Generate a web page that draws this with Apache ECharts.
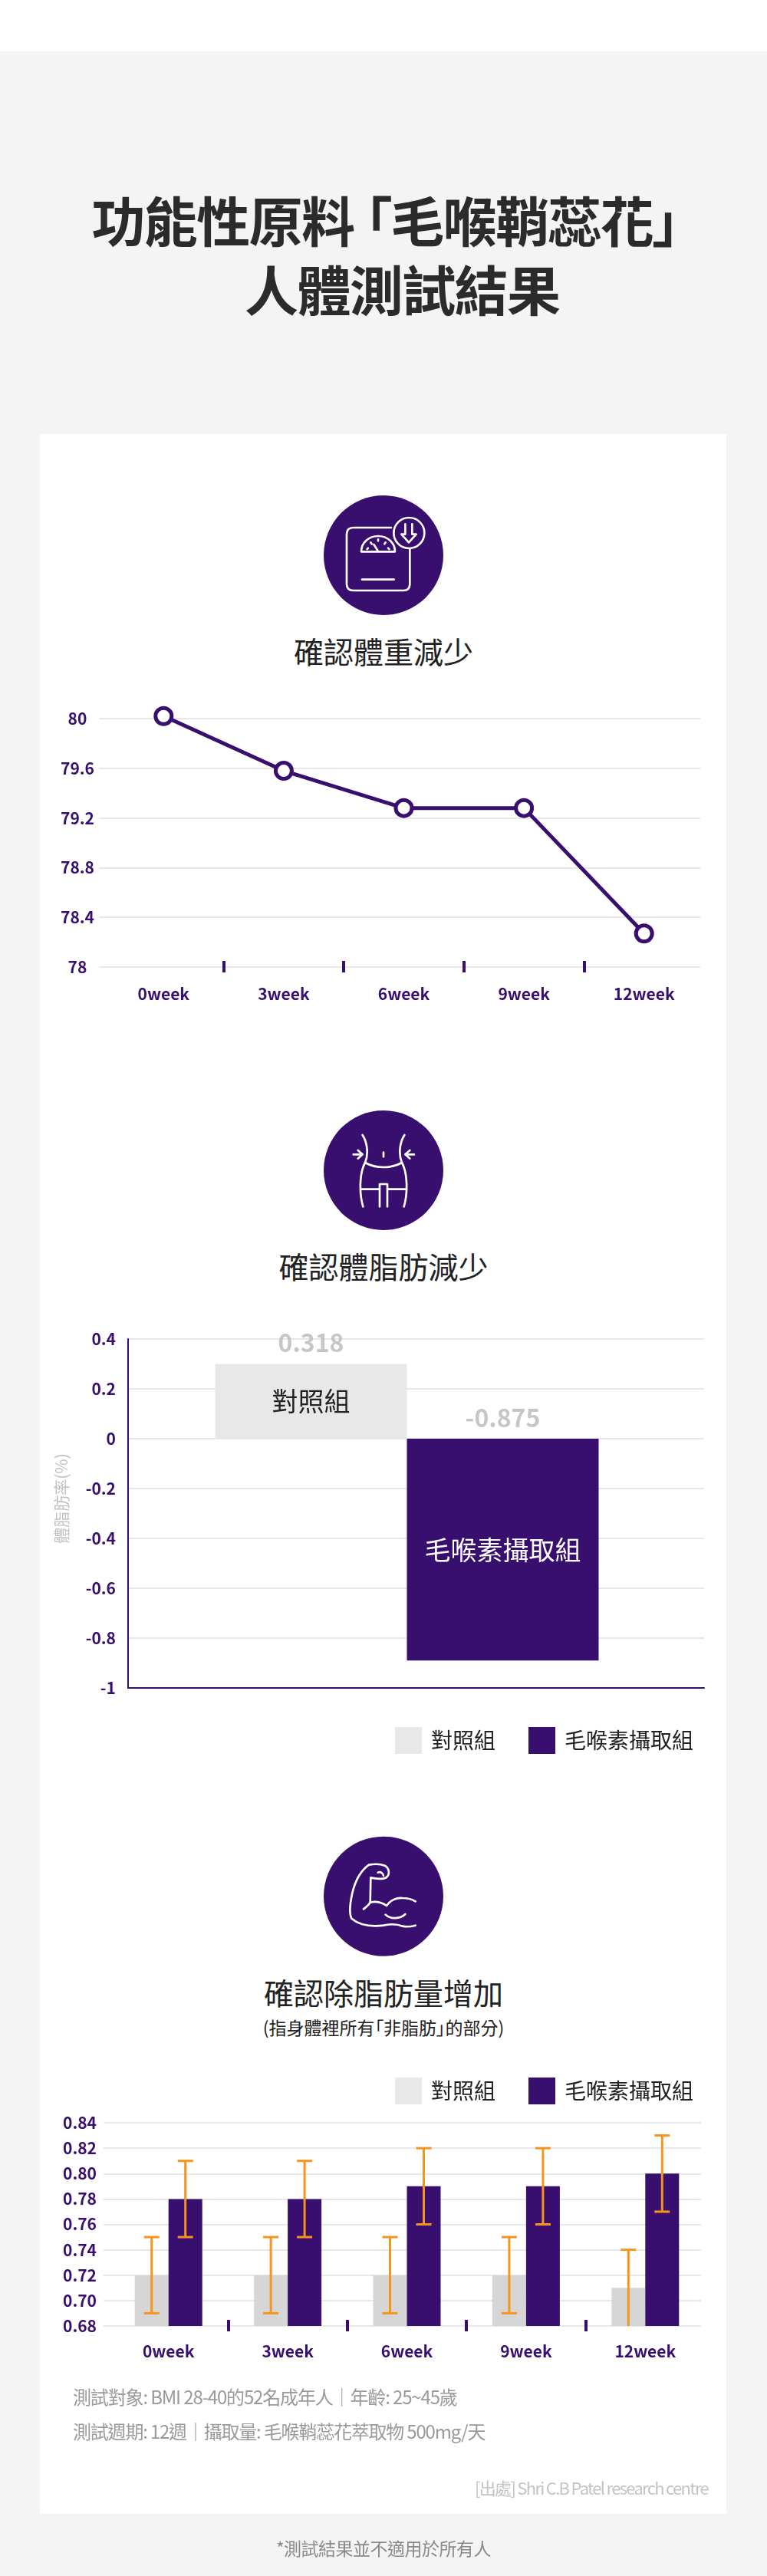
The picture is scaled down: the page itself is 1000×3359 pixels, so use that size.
<!DOCTYPE html>
<html lang="zh-Hant">
<head>
<meta charset="utf-8">
<script src="https://cdn.jsdelivr.net/npm/echarts@6/dist/echarts.min.js"></script>
<style>
  html,body{margin:0;padding:0;background:#fff;}
  #page{position:relative;width:1000px;height:3359px;overflow:hidden;background:#f4f4f4;font-family:"Noto Sans CJK TC","Noto Sans",sans-serif;font-feature-settings:"palt";}
  #band{position:absolute;left:0;top:0;width:1000px;height:67px;background:#fff;}
  #card{position:absolute;left:52px;top:566px;width:895px;height:2712px;background:#fff;}
  #chart{position:absolute;left:0;top:0;width:1000px;height:3359px;}
  .t{position:absolute;white-space:nowrap;line-height:1;}
  .c{left:0;width:1000px;text-align:center;}
  svg{position:absolute;width:200px;height:200px;left:400px;}
  svg path{fill:none;stroke:#fff;stroke-width:8;stroke-linecap:round;stroke-linejoin:round;}
</style>
</head>
<body>
<div id="page">
  <div id="band"></div>
  <div id="card"></div>
  <div class="t c" style="top:251px;left:2px;font-size:70px;font-weight:700;color:#2b2b2b;letter-spacing:-1.6px;">功能性原料 「毛喉鞘蕊花」</div>
  <div class="t" style="top:341px;left:319px;font-size:70px;font-weight:700;color:#2b2b2b;letter-spacing:-1.6px;">人體測試結果</div>

  <svg style="top:630px" viewBox="0 0 600 600"><circle cx="300" cy="282" r="234" fill="#380f6f"/>
    <path d="M330,174 L182,174 Q156,174 156,200 L156,394 Q156,420 182,420 L378,420 Q403,420 403,394 L403,258"/>
    <circle cx="400" cy="195" r="60" fill="none" stroke="#fff" stroke-width="8"/>
    <path d="M385,160 L385,200 L370,200 L399,232 L428,200 L412,200 L412,160"/>
    <path d="M213,268 L345,268 C345,232 315,207 279,207 C243,207 213,232 213,268 Z"/>
    <path d="M236,258 L240,254 M250,232 L254,238 M279,220 L279,226 M308,232 L304,238 M322,258 L318,254 M262,240 L278,265"/>
    <path d="M216,377 L341,377"/></svg>
  <div class="t c" style="top:829px;font-size:39px;color:#222;">確認體重減少</div>

  <svg style="top:1430px" viewBox="0 0 600 600"><circle cx="300" cy="288" r="234" fill="#380f6f"/>
    <path d="M218,150 C240,185 240,230 228,258 C205,300 205,380 220,430"/>
    <path d="M382,150 C360,185 360,230 372,258 C395,300 395,380 380,430"/>
    <path d="M228,258 C270,282 330,282 372,258"/>
    <path d="M212,362 L285,362 M315,362 L390,362 M285,430 L285,342 L315,342 L315,430"/>
    <path d="M300,218 L300,235"/>
    <path d="M182,226 L218,226 M200,210 L218,226 L200,242"/>
    <path d="M420,226 L385,226 M403,210 L385,226 L403,242"/></svg>
  <div class="t c" style="top:1631px;font-size:39px;color:#222;">確認體脂肪減少</div>

  <svg style="top:2380px" viewBox="0 0 600 600"><circle cx="300" cy="278" r="234" fill="#380f6f"/>
    <path d="M222,328 C235,318 243,312 248,302 L250,205 C270,210 300,212 310,205 C325,195 325,170 305,158 C285,150 260,152 243,155 C215,175 190,215 178,265 C168,310 165,345 175,365 C205,390 250,398 300,392 C330,385 350,385 375,395 C390,398 410,396 425,392"/>
    <path d="M248,302 C275,295 300,305 312,315 C325,295 350,282 375,285 C395,285 415,292 425,298"/>
    <path d="M308,350 C325,368 365,368 385,348"/>
    <path d="M278,185 C290,180 300,190 300,198"/></svg>
  <div class="t c" style="top:2578px;font-size:39px;color:#222;">確認除脂肪量增加</div>
  <div class="t c" style="top:2632px;font-size:23px;color:#222;">(指身體裡所有「非脂肪」的部分)</div>

  <div id="chart"></div>

  <div class="t" style="left:95px;top:3113px;font-size:24px;color:#9a9a9a;letter-spacing:-1.15px;">測試對象: BMI 28-40的52名成年人｜年齡: 25~45歲</div>
  <div class="t" style="left:95px;top:3158px;font-size:24px;color:#9a9a9a;letter-spacing:-1.2px;">測試週期: 12週｜攝取量: 毛喉鞘蕊花萃取物 500mg/天</div>
  <div class="t" style="right:77px;top:3232px;font-size:22px;color:#c4c4c4;letter-spacing:-1.7px;">[出處] Shri C.B Patel research centre</div>
  <div class="t c" style="top:3311px;font-size:23px;color:#8a8a8a;letter-spacing:-.5px;">*測試結果並不適用於所有人</div>
</div>
<script>
const weeks = ['0week','3week','6week','9week','12week'];
const weightValues = [80.02, 79.58, 79.28, 79.28, 78.27];
const bandDividers = [1, 2, 3, 4];

const groupNames = ['對照組', '毛喉素攝取組'];
const fatControl = [0.30, null];
const fatExtract = [null, -0.89];
const fatTextLabels = ['0.318', '-0.875'];

const leanControl = [0.72, 0.72, 0.72, 0.72, 0.71];
const leanExtract = [0.78, 0.78, 0.79, 0.79, 0.80];
const leanControlHigh = [0.75, 0.75, 0.75, 0.75, 0.74];
const leanControlLow = [0.69, 0.69, 0.69, 0.69, 0.68];
const leanExtractHigh = [0.81, 0.81, 0.82, 0.82, 0.83];
const leanExtractLow = [0.75, 0.75, 0.76, 0.76, 0.77];

const PURPLE = '#380f6f', GRAY = '#e8e8e8', GRAY2 = '#d6d6d6', LINE = '#e8e8e8', ORANGE = '#f7941d';
const FONT = '"Noto Sans CJK TC","Noto Sans",sans-serif';
const axisText = {color: PURPLE, fontSize: 21, fontWeight: 700, fontFamily: FONT};
const split = {show: true, lineStyle: {color: LINE, width: 2}};

const chart = echarts.init(document.getElementById('chart'), null, {width: 1000, height: 3359});

function hiddenCat(g){ return {type:'category', gridIndex:g, data:[], show:false}; }
function weekAxis(g, margin){
  return {type:'category', gridIndex:g, data:weeks, position:'bottom',
    axisLine:{show:false}, axisTick:{show:false}, splitLine:{show:false},
    axisLabel:Object.assign({margin:margin, interval:0}, axisText)};
}
function tickAxis(g){
  return {type:'value', gridIndex:g, min:0, max:5, interval:1, position:'bottom', offset:7,
    axisLine:{show:false}, splitLine:{show:false}, axisLabel:{show:false},
    axisTick:{show:true, inside:true, length:15, customValues:bandDividers, lineStyle:{color:PURPLE, width:4}}};
}
function hiddenY(g,min,max,interval){ return {type:'value', gridIndex:g, min, max, interval, show:false, splitLine:{show:false}}; }

function errorItem(offset){
  return function(params, api){
    const hi = api.coord([api.value(0), api.value(1)]);
    const lo = api.coord([api.value(0), api.value(2)]);
    const x = hi[0] + offset, style = {stroke: ORANGE, lineWidth: 3, fill: null};
    const kids = [
      {type:'line', shape:{x1:x, y1:hi[1], x2:x, y2:lo[1]}, style},
      {type:'line', shape:{x1:x-10, y1:hi[1], x2:x+10, y2:hi[1]}, style}
    ];
    if (api.value(2) > 0.68) kids.push({type:'line', shape:{x1:x-10, y1:lo[1], x2:x+10, y2:lo[1]}, style});
    return {type:'group', children:kids};
  };
}
function zipErr(hi, lo){ return weeks.map((w,i)=>[i, hi[i], lo[i]]); }

chart.setOption({
  animation:false,
  backgroundColor:'transparent',
  grid:[
    {left:129, top:937, width:784, height:324},
    {left:135, top:937, width:783, height:324},
    {left:167, top:1746, width:751, height:455},
    {left:280.5, top:1746, width:500, height:455},
    {left:135, top:2768, width:779, height:265},
    {left:142, top:2768, width:777, height:265}
  ],
  xAxis:[
    hiddenCat(0), weekAxis(1,25), tickAxis(1),
    {type:'category', gridIndex:2, data:[], position:'bottom', axisTick:{show:false}, axisLabel:{show:false},
      axisLine:{show:true, onZero:false, lineStyle:{color:PURPLE, width:2}}},
    {type:'category', gridIndex:3, data:groupNames, show:false},
    hiddenCat(4), weekAxis(5,23), tickAxis(5)
  ],
  yAxis:[
    {type:'value', gridIndex:0, min:78, max:80, interval:0.4, splitLine:split, axisLine:{show:false}, axisTick:{show:false},
      axisLabel:Object.assign({margin:28, align:'center'}, axisText)},
    hiddenY(1,78,80,0.4),
    {type:'value', gridIndex:2, min:-1, max:0.4, interval:0.2, splitLine:split, axisTick:{show:false},
      axisLine:{show:true, lineStyle:{color:PURPLE, width:2}},
      axisLabel:Object.assign({margin:16}, axisText)},
    hiddenY(3,-1,0.4,0.2),
    {type:'value', gridIndex:4, min:0.68, max:0.84, interval:0.02, splitLine:split, axisLine:{show:false}, axisTick:{show:false},
      axisLabel:Object.assign({margin:9, formatter:v=>v.toFixed(2)}, axisText)},
    hiddenY(5,0.68,0.84,0.02)
  ],
  legend:[
    {left:515, top:2252, padding:0, itemWidth:35, itemHeight:35, itemGap:43, icon:'rect', selectedMode:false,
      textStyle:{fontSize:28, color:'#222', fontFamily:FONT, padding:[0,0,0,7]},
      data:[{name:groupNames[0], itemStyle:{color:GRAY}},{name:groupNames[1], itemStyle:{color:PURPLE}}]},
    {left:515, top:2709, padding:0, itemWidth:35, itemHeight:35, itemGap:43, icon:'rect', selectedMode:false,
      textStyle:{fontSize:28, color:'#222', fontFamily:FONT, padding:[0,0,0,7]},
      data:[{name:groupNames[0], itemStyle:{color:GRAY}},{name:groupNames[1], itemStyle:{color:PURPLE}}]}
  ],
  series:[
    {type:'line', name:'體重', xAxisIndex:1, yAxisIndex:1, data:weightValues, clip:false, z:5,
      lineStyle:{color:PURPLE, width:5}, symbol:'circle', symbolSize:21, showAllSymbol:true,
      itemStyle:{color:'#fff', borderColor:PURPLE, borderWidth:5}},

    {type:'bar', name:groupNames[0], xAxisIndex:4, yAxisIndex:3, data:fatControl, barWidth:'100%', barGap:'-100%',
      itemStyle:{color:GRAY},
      label:{show:true, position:'inside', formatter:groupNames[0], fontSize:34, color:'#222', fontFamily:FONT}},
    {type:'bar', name:groupNames[1], xAxisIndex:4, yAxisIndex:3, data:fatExtract, barWidth:'100%', barGap:'-100%',
      itemStyle:{color:PURPLE},
      label:{show:true, position:'inside', formatter:groupNames[1], fontSize:34, color:'#fff', fontFamily:FONT}},
    {type:'scatter', name:'數值', xAxisIndex:4, yAxisIndex:3, symbolSize:1, silent:true, z:6,
      itemStyle:{color:'transparent'},
      data:[[0, fatControl[0]],[1, 0]],
      label:{show:true, position:'top', distance:11, fontSize:32, fontWeight:700, color:'#b8b8b8', fontFamily:FONT,
        formatter:p=>fatTextLabels[p.dataIndex]}},

    {type:'bar', name:groupNames[0], xAxisIndex:6, yAxisIndex:5, data:leanControl, barWidth:44, barGap:0, itemStyle:{color:GRAY2}},
    {type:'bar', name:groupNames[1], xAxisIndex:6, yAxisIndex:5, data:leanExtract, barWidth:44, barGap:0, itemStyle:{color:PURPLE}},
    {type:'custom', name:'誤差對照', xAxisIndex:6, yAxisIndex:5, z:7, clip:false, renderItem:errorItem(-22),
      encode:{x:0, y:[1,2]}, data:zipErr(leanControlHigh, leanControlLow)},
    {type:'custom', name:'誤差攝取', xAxisIndex:6, yAxisIndex:5, z:7, clip:false, renderItem:errorItem(22),
      encode:{x:0, y:[1,2]}, data:zipErr(leanExtractHigh, leanExtractLow)}
  ],
  graphic:[
    {type:'text', rotation:Math.PI/2, x:80, y:1954, silent:true,
      style:{text:'體脂肪率(%)', font:'21px '+FONT, fill:'#c2c2c2', align:'center', verticalAlign:'middle'}}
  ]
});
</script>
</body>
</html>
